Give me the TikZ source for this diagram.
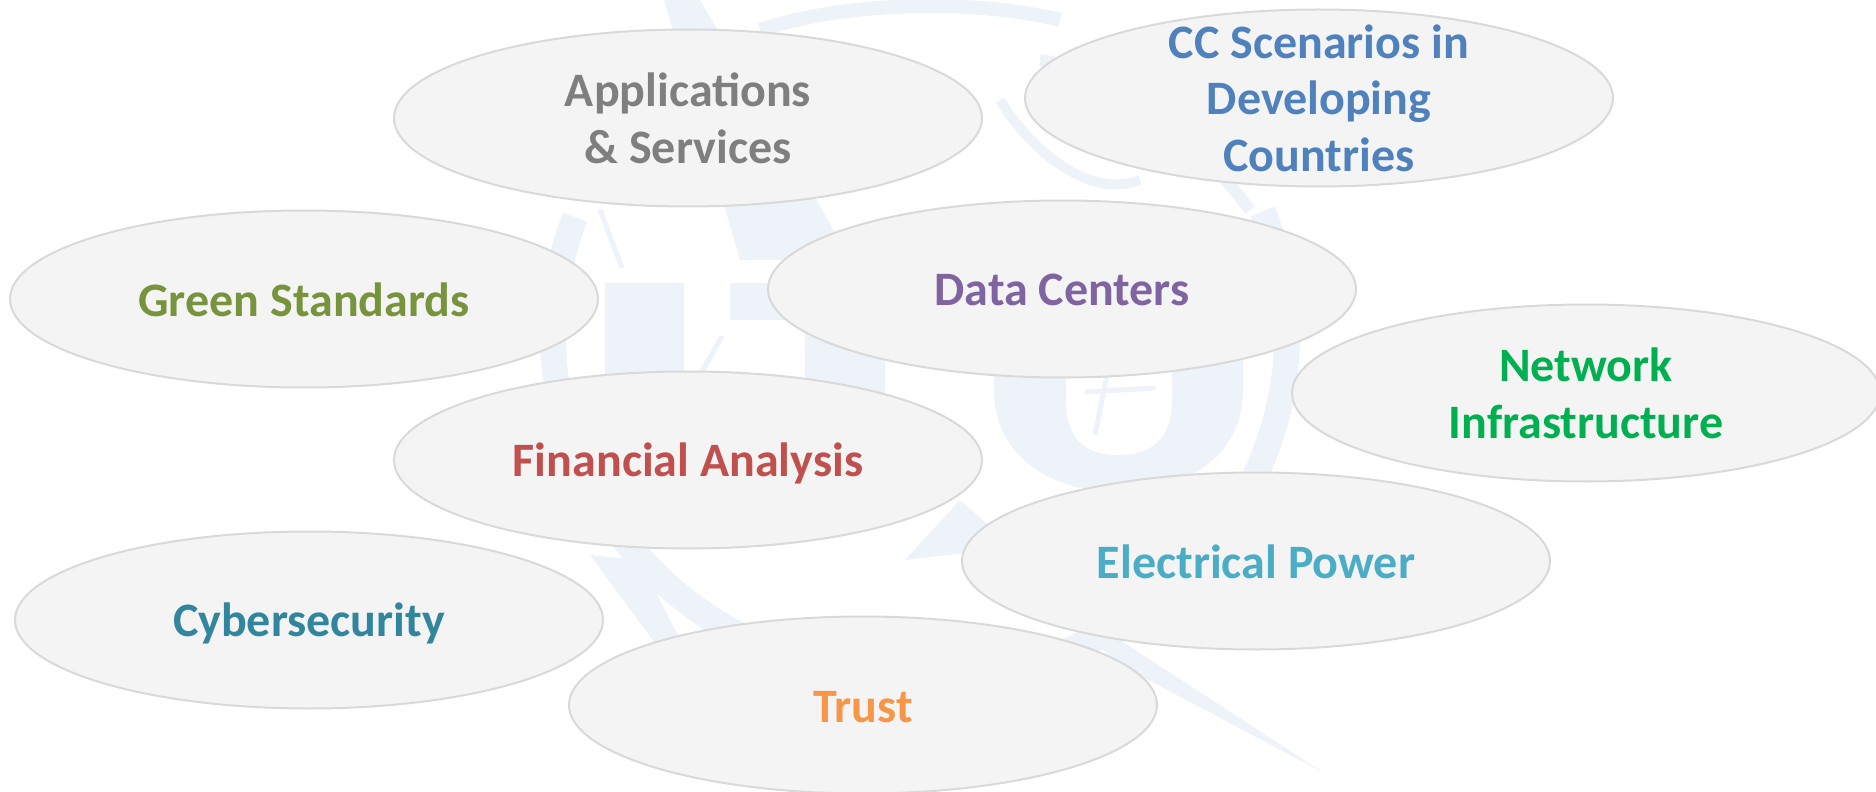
\documentclass[tikz,border=0pt]{standalone}
\usepackage{fontspec}
\setmainfont{Carlito}
\usetikzlibrary{shapes.geometric}
\definecolor{wmark}{HTML}{EEF3FA}
\definecolor{ovalfill}{HTML}{F4F4F4}
\definecolor{ovalline}{HTML}{D9D9D9}
\definecolor{appscol}{HTML}{7F7F7F}
\definecolor{cccol}{HTML}{4F81BD}
\definecolor{greencol}{HTML}{77933C}
\definecolor{datacol}{HTML}{8064A2}
\definecolor{netcol}{HTML}{00B050}
\definecolor{fincol}{HTML}{C0504D}
\definecolor{powercol}{HTML}{4BACC6}
\definecolor{cybercol}{HTML}{31859C}
\definecolor{trustcol}{HTML}{F79646}
\newcommand{\capstrut}{\rule[-3.5pt]{0pt}{24pt}}
\tikzset{
  oval/.style={draw=ovalline,line width=1pt,fill=ovalfill,ellipse,inner sep=0pt,%
    minimum width=294pt,minimum height=88.5pt},
  txt/.style={inner sep=0pt,align=center,%
    font=\fontsize{24}{28.5}\selectfont\bfseries},
  wm/.style={draw=none,fill=wmark},
  wmline/.style={draw=wmark,line width=2.5pt}
}
\begin{document}
\begin{tikzpicture}[x=.5pt,y=-.5pt]
	\useasboundingbox (0,0) rectangle (1876,792);
	% watermark
	\draw[wmark,line width=13pt] (1262.6,211.4) arc [start angle=-21,end angle=200,x radius=367,y radius=345];
	\draw[wmark,line width=7pt] (760,30) .. controls (850,0) and (980,0) .. (1060,20);
	\draw[wmark,line width=6pt] (1040,60) .. controls (1110,70) and (1190,130) .. (1250,210);
	\draw[wmark,line width=5pt] (1000,100) .. controls (1030,150) and (1090,200) .. (1140,180);
	\fill[wm] (664,0) -- (700,0) -- (800,170) -- (850,260) -- (740,260) -- cycle;
	\fill[wm] (605,283) rectangle (684,500);
	\fill[wm] (730,283) rectangle (960,320);
	\fill[wm] (805,283) rectangle (885,520);
	\fill[wm] (994,283) -- (1243,283) -- (1243,390) .. controls (1243,460) and (1180,492) .. (1118,492)
		.. controls (1056,492) and (994,460) .. (994,390) -- cycle;
	\fill[white] (1066,283) -- (1172,283) -- (1172,400) .. controls (1172,440) and (1150,455) .. (1118,455)
		.. controls (1086,455) and (1066,440) .. (1066,400) -- cycle;
	\draw[wmline] (1085,392) -- (1155,388);
	\draw[wmline] (1108,370) -- (1095,435);
	\draw[wmline] (600,210) -- (622,268);
	\draw[wmline] (722,336) -- (700,375);
	\fill[wm] (905,560) -- (960,500) -- (1120,640) -- (1324,773) -- (1120,665) -- (990,550) -- cycle;
	\fill[wm] (590,555) -- (640,560) -- (700,680) -- (660,650) -- cycle;
	% topics
	\node[oval] (apps) at (688,118) {};
	\node[oval] (scen) at (1319,98) {};
	\node[oval] (green) at (304,299) {};
	\node[oval] (data) at (1062,289) {};
	\node[oval] (net) at (1586,393) {};
	\node[oval] (fin) at (688,460) {};
	\node[oval] (power) at (1256,561) {};
	\node[oval] (cyber) at (309,620) {};
	\node[oval] (trust) at (863,705) {};
	\node[txt,appscol] (appstxt) at (apps) {\capstrut Applications\\\capstrut\& Services};
	\node[txt,cccol] (scentxt) at (scen) {\capstrut CC Scenarios in\\\capstrut Developing\\\capstrut Countries};
	\node[txt,greencol] (greentxt) at (green) {\capstrut Green Standards};
	\node[txt,datacol] (datatxt) at (data) {\capstrut Data Centers};
	\node[txt,netcol] (nettxt) at (net) {\capstrut Network\\\capstrut Infrastructure};
	\node[txt,fincol] (fintxt) at (fin) {\capstrut Financial Analysis};
	\node[txt,powercol] (powertxt) at (power) {\capstrut Electrical Power};
	\node[txt,cybercol] (cybertxt) at (cyber) {\capstrut Cybersecurity};
	\node[txt,trustcol] (trusttxt) at (trust) {\capstrut Trust};
\end{tikzpicture}
\end{document}
